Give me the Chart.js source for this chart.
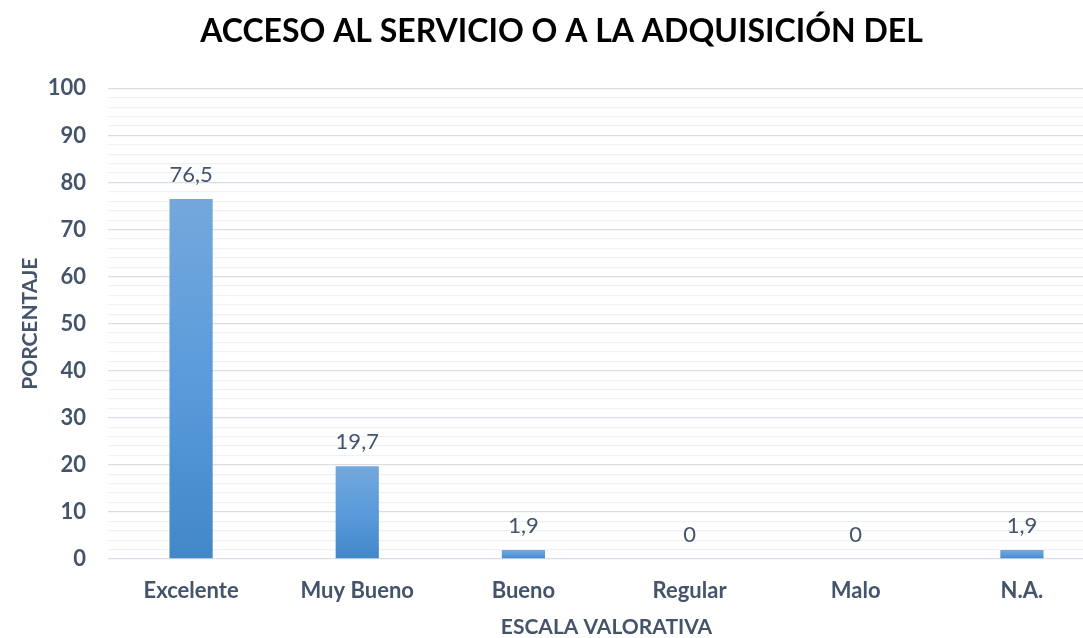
<!DOCTYPE html>
<html>
<head>
<meta charset="utf-8">
<script src="https://cdn.jsdelivr.net/npm/chart.js@4/dist/chart.umd.min.js"></script>
<style>
  html, body { margin: 0; padding: 0; background: #fff; overflow: hidden; }
  #wrap { position: relative; width: 1105px; height: 638px; }
</style>
</head>
<body>
<div id="wrap"><canvas id="c" width="1105" height="638"></canvas></div>
<script>
const categories = ['Excelente', 'Muy Bueno', 'Bueno', 'Regular', 'Malo', 'N.A.'];
const values = [76.5, 19.7, 1.9, 0, 0, 1.9];
const valueLabels = ['76,5', '19,7', '1,9', '0', '0', '1,9'];
const titleText = 'ACCESO AL SERVICIO O A LA ADQUISICIÓN DEL';
const xTitle = 'ESCALA VALORATIVA';
const yTitle = 'PORCENTAJE';

const FONT = 'Lato, "Open Sans", sans-serif';
const TXT = '#44546a';

const dataLabelPlugin = {
  id: 'dataLabels',
  afterDatasetsDraw(chart) {
    const ctx = chart.ctx;
    const meta = chart.getDatasetMeta(0);
    ctx.save();
    ctx.font = '22px ' + FONT;
    ctx.fillStyle = TXT;
    ctx.textAlign = 'center';
    ctx.textBaseline = 'alphabetic';
    meta.data.forEach((bar, i) => {
      ctx.fillText(valueLabels[i], bar.x, bar.y - 17);
    });
    ctx.restore();
  }
};

new Chart(document.getElementById('c'), {
  type: 'bar',
  data: {
    labels: categories,
    datasets: [{
      data: values,
      barPercentage: 0.26,
      categoryPercentage: 1,
      backgroundColor(context) {
        const chart = context.chart;
        const y = chart.scales && chart.scales.y;
        if (!y || context.raw === undefined) return '#5b9bd5';
        const top = y.getPixelForValue(context.raw);
        const bottom = y.getPixelForValue(0);
        if (!isFinite(top) || bottom - top < 1) return '#4a8fd0';
        const g = chart.ctx.createLinearGradient(0, top, 0, bottom);
        g.addColorStop(0, '#74a8dc');
        g.addColorStop(0.5, '#5a9bdb');
        g.addColorStop(1, '#4287c8');
        return g;
      },
      borderWidth: 0
    }]
  },
  options: {
    responsive: false,
    animation: false,
    devicePixelRatio: 1,
    layout: { padding: { left: 18, right: 0, top: 8, bottom: 0 } },
    plugins: {
      legend: { display: false },
      tooltip: { enabled: false },
      title: {
        display: true,
        text: titleText,
        color: '#000',
        font: { family: FONT, size: 32, weight: 'bold' },
        padding: { top: 4, bottom: 38 }
      }
    },
    scales: {
      x: {
        afterFit(scale) { scale.height = 79; },
        grid: { display: false, drawTicks: false },
        border: { display: false },
        ticks: {
          color: TXT,
          font: { family: FONT, size: 22, weight: 'bold' },
          padding: 19
        },
        title: {
          display: true,
          text: xTitle,
          color: TXT,
          font: { family: FONT, size: 21, weight: 'bold', lineHeight: 1.0 },
          padding: { top: 14, bottom: 0 }
        }
      },
      y: {
        min: 0,
        max: 100,
        afterFit(scale) { scale.width = 90; },
        ticks: {
          stepSize: 2,
          autoSkip: false,
          color: TXT,
          font: { family: FONT, size: 22, weight: 'bold' },
          padding: 22,
          callback(v) { return v % 10 === 0 ? String(v) : ''; }
        },
        grid: {
          drawTicks: false,
          lineWidth: 1.3,
          color(ctx) {
            const v = ctx.tick && ctx.tick.value;
            return (v % 10 === 0) ? '#dadee4' : '#f0f1f4';
          }
        },
        border: { display: false },
        title: {
          display: true,
          text: yTitle,
          color: TXT,
          font: { family: FONT, size: 21, weight: 'bold' },
          padding: { top: 0, bottom: 8 }
        }
      }
    }
  },
  plugins: [dataLabelPlugin]
});
</script>
</body>
</html>
